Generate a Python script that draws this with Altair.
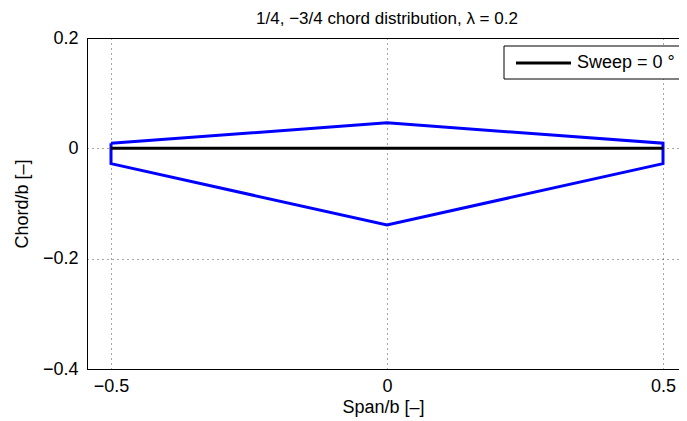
import altair as alt
import pandas as pd

# Planform outline (1/4 chord LE, -3/4 chord TE), taper 0.2
outline_span = [-0.5, 0.0, 0.5, 0.5, 0.0, -0.5, -0.5]
outline_chord = [0.00926, 0.0463, 0.00926, -0.02778, -0.1389, -0.02778, 0.00926]

# Quarter-chord line (sweep = 0)
sweep_span = [-0.5, 0.5]
sweep_chord = [0.0, 0.0]
sweep_label = "Sweep = 0 °"
title_text = "1/4, −3/4 chord distribution, λ = 0.2"

x_ticks = [-0.5, 0, 0.5]
y_ticks = [-0.4, -0.2, 0, 0.2]

FONT = "Liberation Sans"
FS = 18

outline_df = pd.DataFrame({"span": outline_span, "chord": outline_chord,
                           "order": list(range(len(outline_span)))})
sweep_df = pd.DataFrame({"span": sweep_span, "chord": sweep_chord})

xscale = alt.Scale(domain=[-0.5435, 0.529], nice=False, zero=False)
yscale = alt.Scale(domain=[-0.4, 0.2], nice=False, zero=False)

xaxis = alt.Axis(title="Span/b [–]", values=x_ticks, format="~g", ticks=False,
                 labelPadding=8, titlePadding=3)
yaxis = alt.Axis(title="Chord/b [–]", values=y_ticks, format="~g", ticks=False,
                 labelPadding=9, titlePadding=11)

outline = alt.Chart(outline_df).mark_line(color="#0000ff", strokeWidth=3,
                                          strokeJoin="miter").encode(
    x=alt.X("span:Q", scale=xscale, axis=xaxis),
    y=alt.Y("chord:Q", scale=yscale, axis=yaxis),
    order="order:Q",
)

sweep = alt.Chart(sweep_df).mark_line(color="black", strokeWidth=3).encode(
    x=alt.X("span:Q", scale=xscale),
    y=alt.Y("chord:Q", scale=yscale),
)

one = pd.DataFrame({"k": [0]})
legend_box = alt.Chart(one).mark_rect(fill="white", stroke="black",
                                      strokeWidth=1).encode(
    x=alt.value(417), x2=alt.value(596), y=alt.value(8), y2=alt.value(41))
legend_line = alt.Chart(one).mark_rule(color="black", strokeWidth=3).encode(
    x=alt.value(429), x2=alt.value(484), y=alt.value(25))
legend_text = alt.Chart(pd.DataFrame({"t": [sweep_label]})).mark_text(
    align="left", baseline="middle", font=FONT, fontSize=FS, color="black").encode(
    x=alt.value(490), y=alt.value(25), text="t:N")
title_mark = alt.Chart(pd.DataFrame({"t": [title_text]})).mark_text(
    align="center", baseline="alphabetic", font=FONT, fontSize=17,
    color="black").encode(x=alt.value(300), y=alt.value(-14), text="t:N")

chart = alt.layer(outline, sweep, legend_box, legend_line, legend_text,
                  title_mark).properties(
    width=592, height=331,
    autosize=alt.AutoSizeParams(type="none"),
    padding={"left": 79, "top": 30, "right": 0, "bottom": 48},
).configure_view(stroke="black", strokeWidth=1).configure_axis(
    labelFont=FONT, titleFont=FONT, labelFontSize=FS, titleFontSize=FS,
    titleFontWeight="normal", labelColor="black", titleColor="black",
    domainColor="black", domainWidth=1,
    grid=True, gridColor="black", gridDash=[1, 4], gridOpacity=0.7, gridWidth=1,
)

chart.save("out.html", embed_options={"renderer": "svg", "actions": False})
